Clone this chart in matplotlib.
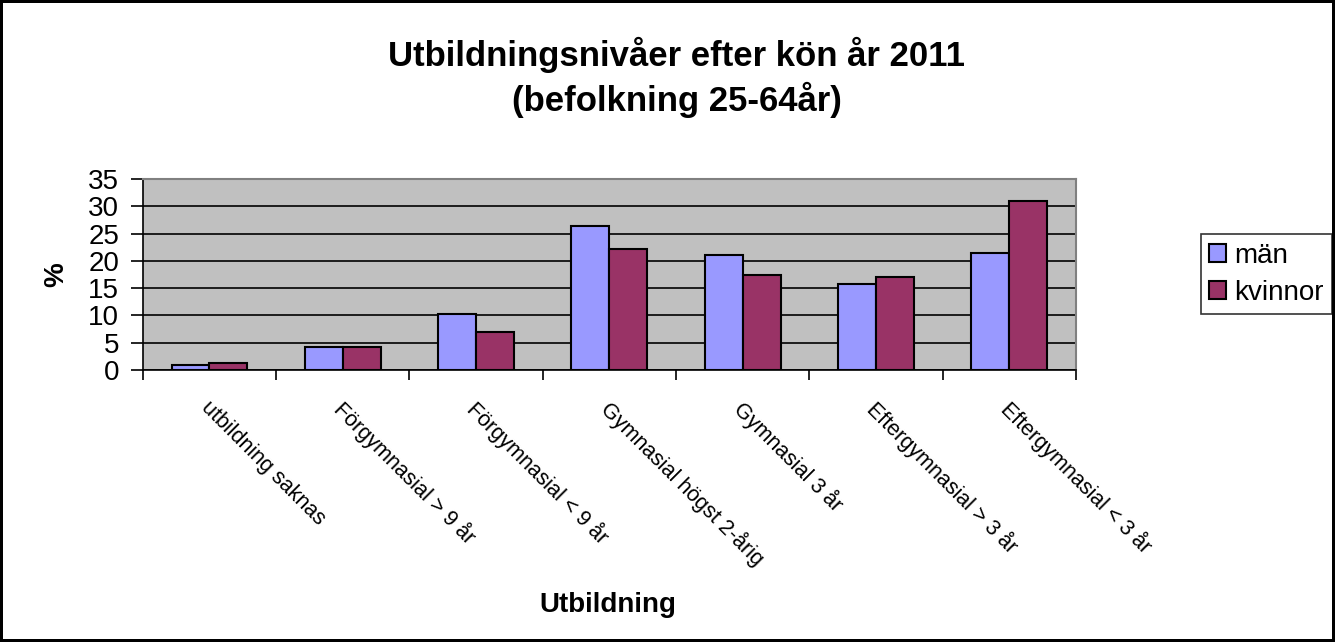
import numpy as np
import matplotlib
matplotlib.use("Agg")
import matplotlib.pyplot as plt

plt.rcParams['font.family'] = ['Liberation Sans', 'DejaVu Sans']

categories = ["utbildning saknas", "Förgymnasial > 9 år", "Förgymnasial < 9 år",
              "Gymnasial högst 2-årig", "Gymnasial 3 år",
              "Eftergymnasial > 3 år", "Eftergymnasial < 3 år"]
man = [0.9, 4.3, 10.2, 26.4, 21.0, 15.8, 21.4]
kvinnor = [1.3, 4.3, 6.9, 22.1, 17.4, 17.1, 31.0]
yticks = [0, 5, 10, 15, 20, 25, 30, 35]

fig = plt.figure(figsize=(13.35, 6.42), dpi=100)
fig.patch.set_edgecolor('black')
fig.patch.set_linewidth(3)
ax = fig.add_axes([0.107, 0.4237, 0.699, 0.2973])
ax.set_facecolor('#C0C0C0')

x = np.arange(len(categories))
w = 0.285
ax.bar(x - w/2, man, w, color='#9999FF', edgecolor='black', linewidth=1.5, label='män', zorder=3)
ax.bar(x + w/2, kvinnor, w, color='#993366', edgecolor='black', linewidth=1.5, label='kvinnor', zorder=3)

ax.set_xlim(-0.5, len(categories) - 0.5)
ax.set_ylim(0, 35)
ax.set_yticks(yticks)
ax.set_yticklabels([str(v) for v in yticks], fontsize=20)
ax.yaxis.grid(True, color='black', linewidth=1.2, zorder=1)
ax.set_axisbelow(True)

ax.set_xticks(np.arange(len(categories) + 1) - 0.5)
ax.set_xticklabels([])
ax.tick_params(axis='x', direction='out', length=7, width=1.2, color='black')
ax.tick_params(axis='y', direction='out', length=9, width=1.2, pad=8)
for i, c in enumerate(categories):
    ax.text(i + 0.02, -5.0, c, rotation=-45, rotation_mode='anchor', ha='left', va='top',
            fontsize=15.5, transform=ax.transData, clip_on=False)

for s in ['top', 'right']:
    ax.spines[s].set_color('#808080')
    ax.spines[s].set_linewidth(1.5)
for s in ['left', 'bottom']:
    ax.spines[s].set_color('black')
    ax.spines[s].set_linewidth(1.2)

ax.set_ylabel('%', fontsize=20, fontweight='bold', labelpad=14)
fig.text(0.4554, 0.057, 'Utbildning', fontsize=20, fontweight='bold', ha='center', va='center')
fig.text(0.507, 0.879, 'Utbildningsnivåer efter kön år 2011\n(befolkning 25-64år)',
         fontsize=25, fontweight='bold', ha='center', va='center', linespacing=1.3)

leg = fig.legend(loc='center left', bbox_to_anchor=(0.8995, 0.573), fontsize=20,
                 frameon=True, fancybox=False, edgecolor='black', handlelength=0.6,
                 handleheight=0.6, handletextpad=0.3, borderpad=0.3, labelspacing=0.4,
                 borderaxespad=0)
leg.get_frame().set_linewidth(1.2)

fig.savefig('out.png', dpi=100, edgecolor=fig.get_edgecolor())
